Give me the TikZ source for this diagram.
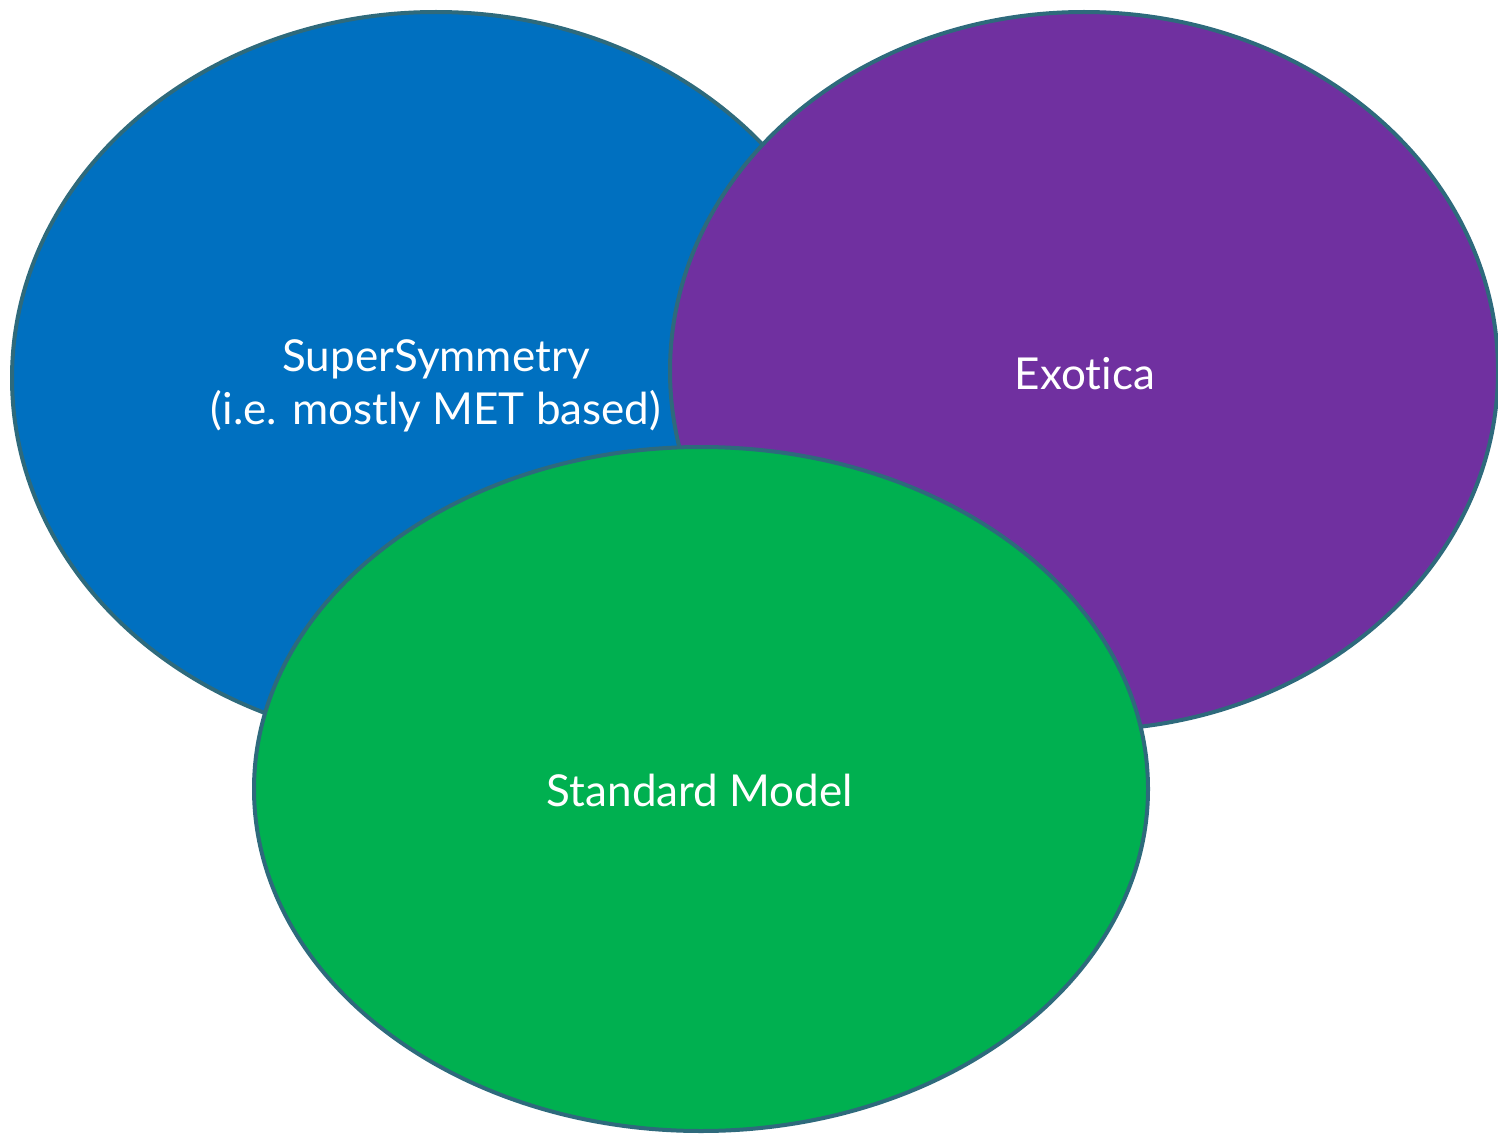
\documentclass[tikz,border=0pt]{standalone}
\usepackage{fontspec}
\setmainfont[Ligatures={NoCommon}]{Lato}
\usetikzlibrary{shapes.geometric}
\definecolor{susyblue}{RGB}{0,112,192}
\definecolor{exopurple}{RGB}{112,48,160}
\definecolor{smgreen}{RGB}{0,176,80}
\definecolor{rimteal}{RGB}{46,106,124}
\tikzset{
  field/.style={ellipse, draw=rimteal, line width=2pt, inner sep=0pt,
    text=white, align=center, font=\fontsize{22}{26.5}\selectfont},
}
\begin{document}
\begin{tikzpicture}[x=0.5pt,y=-0.5pt]
  \useasboundingbox (0,0) rectangle (1498,1134);
  \node[field, fill=susyblue, minimum width=424pt, minimum height=366pt]
    (susy) at (436,378) {};
  \node[field, fill=exopurple, minimum width=414pt, minimum height=359pt]
    (exo) at (1084,371) {};
  \node[field, fill=smgreen, minimum width=447pt, minimum height=342pt]
    (sm) at (701,789) {};
  \node[field, draw=none] (susylabel) at (436,386) {SuperSymmetry\\(i.e. mostly MET based)};
  \node[field, draw=none] (exolabel) at (1085,374) {Exotica};
  \node[field, draw=none] (smlabel) at (700,790) {Standard Model};
\end{tikzpicture}
\end{document}
